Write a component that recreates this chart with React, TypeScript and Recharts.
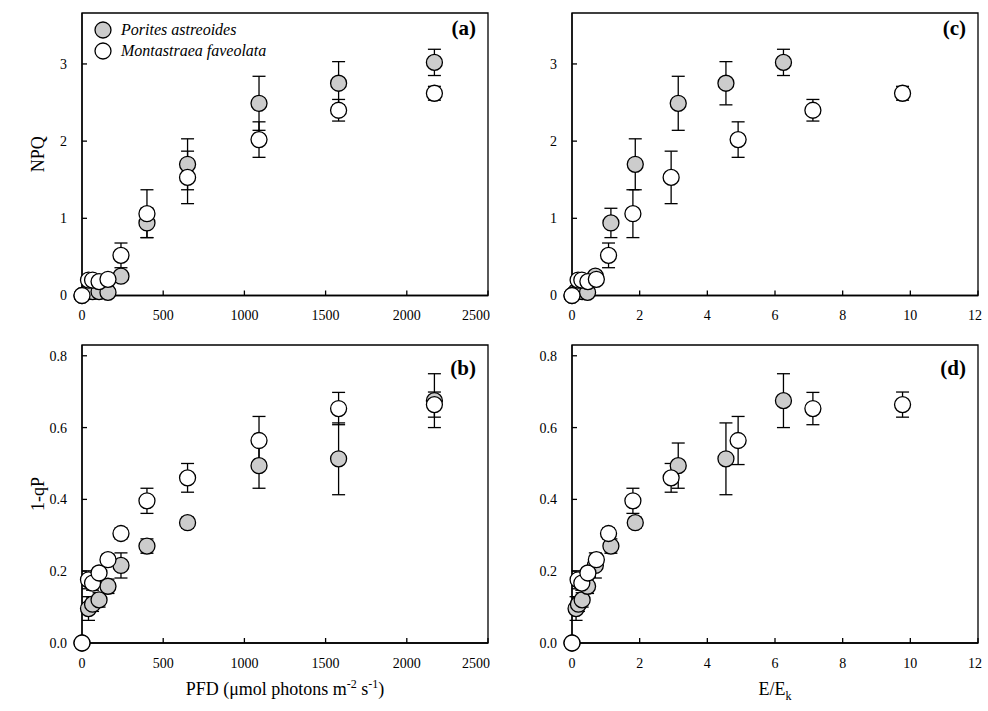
import React from 'react';
import { ScatterChart, Scatter, XAxis, YAxis, ErrorBar, ReferenceArea, Legend } from 'recharts';

// irradiance steps of the rapid light curves
const pfd = [0, 40, 65, 105, 160, 240, 400, 650, 1090, 1580, 2170];
// same steps scaled by each species' Ek
const ekPorites = [0, 0.12, 0.19, 0.3, 0.46, 0.69, 1.15, 1.87, 3.14, 4.55, 6.25];
const ekMontastraea = [0, 0.18, 0.29, 0.47, 0.72, 1.08, 1.8, 2.93, 4.91, 7.12, 9.77];

const npqPorites = [0, 0.05, 0.05, 0.05, 0.04, 0.25, 0.94, 1.7, 2.49, 2.75, 3.02];
const npqPoritesErr = [0, 0.03, 0.03, 0.03, 0.03, 0.05, 0.19, 0.33, 0.35, 0.28, 0.17];
const npqMontastraea = [0, 0.2, 0.2, 0.18, 0.21, 0.52, 1.06, 1.53, 2.02, 2.4, 2.62];
const npqMontastraeaErr = [0, 0.03, 0.03, 0.03, 0.03, 0.16, 0.31, 0.34, 0.23, 0.14, 0.09];

const qpPorites = [0, 0.096, 0.108, 0.12, 0.158, 0.216, 0.27, 0.335, 0.494, 0.513, 0.675];
const qpPoritesErr = [0, 0.033, 0.02, 0.02, 0.02, 0.035, 0.02, 0.015, 0.063, 0.1, 0.075];
const qpMontastraea = [0, 0.176, 0.167, 0.195, 0.232, 0.305, 0.396, 0.46, 0.564, 0.653, 0.664];
const qpMontastraeaErr = [0, 0.025, 0.02, 0.015, 0.015, 0.015, 0.035, 0.04, 0.067, 0.045, 0.035];

const pfdTicks = [0, 500, 1000, 1500, 2000, 2500];
const ekTicks = [0, 2, 4, 6, 8, 10, 12];
const npqTicks = [0, 1, 2, 3];
const qpTicks = [0, 0.2, 0.4, 0.6, 0.8];

const SPECIES = ['Porites astreoides', 'Montastraea faveolata'];
const FILLS = ['#cccccc', '#ffffff'];
const FONT = '"Liberation Serif", "Times New Roman", serif';
const NPQ_MAX = 3.66;
const QP_MAX = 0.83;

const pts = (xs: number[], ys: number[], es: number[]) =>
  xs.map((x, i) => ({ x, y: ys[i], e: es[i] }));

const dot = (fill: string) => (props: any) => (
  <circle cx={props.cx} cy={props.cy} r={8} fill={fill} stroke="#000" strokeWidth={1.3} />
);

const tickStyle = { fill: '#000', fontSize: 14, fontFamily: FONT };

const PanelLabel = (text: string, dy: number) => (props: any) => {
  const { x, y, width } = props.viewBox;
  return (
    <text x={x + width - 12} y={y + dy} textAnchor="end" fontFamily={FONT} fontSize={21} fontWeight="bold" fill="#000">
      {text}
    </text>
  );
};

const YTitle = (text: string) => (props: any) => {
  const { y, height } = props.viewBox;
  const cy = y + height / 2;
  return (
    <text x={44} y={cy} transform={`rotate(-90 44 ${cy})`} textAnchor="middle" fontFamily={FONT} fontSize={18} fill="#000">
      {text}
    </text>
  );
};

const PfdTitle = (props: any) => {
  const { x, y, width } = props.viewBox;
  return (
    <text x={x + width / 2} y={y + 52} textAnchor="middle" fontFamily={FONT} fontSize={18} fill="#000">
      PFD (μmol photons m
      <tspan dy={-7} fontSize={12}>-2</tspan>
      <tspan dy={7}> s</tspan>
      <tspan dy={-7} fontSize={12}>-1</tspan>
      <tspan dy={7}>)</tspan>
    </text>
  );
};

const EkTitle = (props: any) => {
  const { x, y, width } = props.viewBox;
  return (
    <text x={x + width / 2} y={y + 52} textAnchor="middle" fontFamily={FONT} fontSize={18} fill="#000">
      E/E
      <tspan dy={5} fontSize={12}>k</tspan>
    </text>
  );
};

const SpeciesLegend = () => (
  <svg width={220} height={46}>
    {SPECIES.map((name, i) => (
      <g key={name}>
        <circle cx={10} cy={12 + i * 21} r={8} fill={FILLS[i]} stroke="#000" strokeWidth={1.3} />
        <text x={28} y={17 + i * 21} fontFamily={FONT} fontSize={16} fontStyle="italic" fill="#000">
          {name}
        </text>
      </g>
    ))}
  </svg>
);

type PanelProps = {
  left: number;
  top: number;
  width: number;
  height: number;
  margin: { top: number; right: number; left: number; bottom: number };
  xHeight: number;
  xs: [number[], number[]];
  ys: [number[], number[]];
  es: [number[], number[]];
  xMax: number;
  xTicks: number[];
  yMax: number;
  yTicks: number[];
  yFmt?: (v: number) => string;
  tag: string;
  tagDy: number;
  yTitle?: string;
  xTitle?: any;
  legend?: boolean;
};

function Panel(p: PanelProps) {
  const axisLine = { stroke: '#000', strokeWidth: 1.3 };
  return (
    <div style={{ position: 'absolute', left: p.left, top: p.top }}>
      <ScatterChart width={p.width} height={p.height} margin={p.margin}>
        <XAxis
          type="number"
          dataKey="x"
          domain={[0, p.xMax]}
          ticks={p.xTicks}
          height={p.xHeight}
          axisLine={axisLine}
          tickLine={axisLine}
          tickSize={-5}
          tickMargin={20}
          tick={tickStyle}
          label={p.xTitle}
        />
        <YAxis
          type="number"
          dataKey="y"
          domain={[0, p.yMax]}
          ticks={p.yTicks}
          width={82}
          axisLine={axisLine}
          tickLine={axisLine}
          tickSize={-5}
          tickMargin={20}
          tick={tickStyle}
          tickFormatter={p.yFmt}
          label={p.yTitle ? { content: YTitle(p.yTitle) } : undefined}
        />
        <ReferenceArea
          x1={0}
          x2={p.xMax}
          y1={0}
          y2={p.yMax}
          fill="none"
          stroke="#000"
          strokeWidth={1.3}
          ifOverflow="visible"
          label={{ content: PanelLabel(p.tag, p.tagDy) }}
        />
        {p.legend && (
          <Legend
            layout="vertical"
            align="center"
            verticalAlign="middle"
            content={SpeciesLegend}
            wrapperStyle={{ left: 93, top: 18, width: 220, height: 46 }}
          />
        )}
        {[0, 1].map((k) => (
          <Scatter
            key={k}
            name={SPECIES[k]}
            data={pts(p.xs[k], p.ys[k], p.es[k])}
            shape={dot(FILLS[k])}
            isAnimationActive={false}
          >
            <ErrorBar dataKey="e" direction="y" width={6.5} stroke="#000" strokeWidth={1.3} />
          </Scatter>
        ))}
      </ScatterChart>
    </div>
  );
}

export default function App() {
  const topMargin = { top: 13, right: 2, left: 0, bottom: 0 };
  const topMarginR = { top: 13, right: 4, left: 0, bottom: 0 };
  const botMargin = { top: 5, right: 2, left: 0, bottom: 0 };
  const botMarginR = { top: 5, right: 4, left: 0, bottom: 0 };
  const qpFmt = (v: number) => v.toFixed(1);
  return (
    <div style={{ position: 'absolute', left: 0, top: 0, width: 988, height: 711, background: '#fff' }}>
      <Panel
        left={0}
        top={0}
        width={490}
        height={340}
        margin={topMargin}
        xHeight={44.5}
        xs={[pfd, pfd]}
        ys={[npqPorites, npqMontastraea]}
        es={[npqPoritesErr, npqMontastraeaErr]}
        xMax={2500}
        xTicks={pfdTicks}
        yMax={NPQ_MAX}
        yTicks={npqTicks}
        tag="(a)"
        tagDy={22}
        yTitle="NPQ"
        legend
      />
      <Panel
        left={490}
        top={0}
        width={492}
        height={340}
        margin={topMarginR}
        xHeight={44.5}
        xs={[ekPorites, ekMontastraea]}
        ys={[npqPorites, npqMontastraea]}
        es={[npqPoritesErr, npqMontastraeaErr]}
        xMax={12}
        xTicks={ekTicks}
        yMax={NPQ_MAX}
        yTicks={npqTicks}
        tag="(c)"
        tagDy={22}
      />
      <Panel
        left={0}
        top={340}
        width={490}
        height={371}
        margin={botMargin}
        xHeight={68}
        xs={[pfd, pfd]}
        ys={[qpPorites, qpMontastraea]}
        es={[qpPoritesErr, qpMontastraeaErr]}
        xMax={2500}
        xTicks={pfdTicks}
        yMax={QP_MAX}
        yTicks={qpTicks}
        yFmt={qpFmt}
        tag="(b)"
        tagDy={30}
        yTitle="1-qP"
        xTitle={{ content: PfdTitle }}
      />
      <Panel
        left={490}
        top={340}
        width={492}
        height={371}
        margin={botMarginR}
        xHeight={68}
        xs={[ekPorites, ekMontastraea]}
        ys={[qpPorites, qpMontastraea]}
        es={[qpPoritesErr, qpMontastraeaErr]}
        xMax={12}
        xTicks={ekTicks}
        yMax={QP_MAX}
        yTicks={qpTicks}
        yFmt={qpFmt}
        tag="(d)"
        tagDy={30}
        xTitle={{ content: EkTitle }}
      />
    </div>
  );
}
